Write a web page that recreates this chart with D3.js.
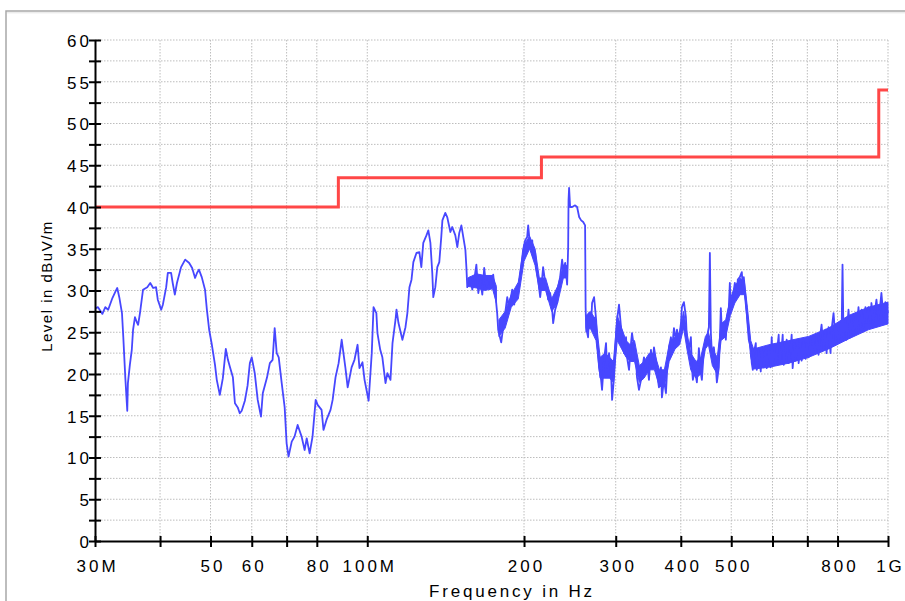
<!DOCTYPE html>
<html>
<head>
<meta charset="utf-8">
<script src="https://cdn.jsdelivr.net/npm/d3@7"></script>
<style>
  body { margin: 0; background: #fff; }
  text { font-family: "Liberation Sans", Arial, sans-serif; }
</style>
</head>
<body>
<div id="chart"></div>
<script>
// svg container
var svgWidth = 905;
var svgHeight = 601;

// margins
var margin = { top: 40, right: 17, bottom: 60, left: 95 };

var chartWidth = svgWidth - margin.left - margin.right;
var chartHeight = svgHeight - margin.top - margin.bottom;

// x ticks (MHz) and their labels
var xTickValues = [30, 40, 50, 60, 70, 80, 100, 200, 300, 400, 500, 600, 700, 800, 1000];
var xTickLabels = ["30M", "", "50", "60", "", "80", "100M", "200", "300", "400", "500", "", "", "800", "1G"];

// y ticks (dBuV/m), labels on every 5
var yTickValues = [0, 2.5, 5, 7.5, 10, 12.5, 15, 17.5, 20, 22.5, 25, 27.5, 30, 32.5, 35, 37.5, 40, 42.5, 45, 47.5, 50, 52.5, 55, 57.5, 60];

// limit line (MHz / dBuV/m)
var limitFreq = [30, 88, 88, 216, 216, 960, 960, 1000];
var limitLevel = [40, 40, 43.5, 43.5, 46, 46, 54, 54];

// measured trace [MHz, dBuV/m]
var traceData = [
  [30.1,27.9],[30.4,28.0],[31.0,27.2],[31.4,28.0],[31.8,27.7],[32.4,29.1],[32.8,29.8],[33.1,30.3],[33.4,29.2],[33.8,27.3],
  [34.0,24.4],[34.3,19.6],[34.6,15.6],[34.7,18.9],[35.0,21.1],[35.3,22.9],[35.5,25.3],[35.8,26.8],[36.1,26.2],[36.3,25.9],
  [36.6,27.3],[37.1,30.1],[37.8,30.4],[38.3,30.9],[38.8,30.3],[39.3,30.4],[39.6,28.9],[40.2,27.7],[40.5,28.3],[41.1,30.4],
  [41.4,32.1],[42.0,32.1],[42.3,30.9],[42.7,29.5],[43.1,30.9],[43.9,32.8],[44.7,33.7],[45.5,33.3],[46.1,32.7],[46.7,31.5],
  [47.1,32.1],[47.5,32.5],[48.1,31.6],[48.8,30.1],[49.2,27.7],[49.7,25.3],[50.3,23.5],[51.0,21.1],[51.4,19.3],[52.1,17.5],
  [52.8,19.5],[53.5,23.0],[54.0,21.7],[54.5,20.8],[55.2,19.6],[55.7,16.5],[56.4,16.0],[56.9,15.3],[57.4,15.6],[58.2,16.8],
  [58.9,18.6],[59.5,21.3],[60.0,22.0],[60.8,20.1],[61.6,16.9],[62.5,14.9],[63.0,17.7],[64.2,19.6],[65.0,21.3],[65.8,21.7],
  [66.4,25.5],[67.0,22.5],[67.6,22.0],[68.5,18.9],[69.4,16.0],[70.0,11.7],[70.6,10.1],[71.6,11.9],[72.5,12.5],[73.5,13.9],
  [74.8,12.5],[75.8,10.9],[76.5,12.3],[77.5,10.5],[78.5,12.5],[79.6,16.9],[80.3,16.3],[81.7,15.7],[82.4,13.3],[83.5,14.5],
  [85.0,15.7],[85.8,16.9],[86.9,19.6],[88.1,21.3],[89.3,24.1],[90.0,22.5],[90.8,20.7],[91.7,18.4],[93.3,20.8],[94.5,21.7],
  [95.8,23.5],[96.6,20.7],[97.9,21.4],[98.8,19.3],[100.6,16.8],[102.0,22.5],[102.8,28.0],[104.1,27.3],[104.6,24.9],[105.9,22.9],
  [106.9,22.0],[108.4,18.9],[109.3,20.1],[110.8,19.3],[111.8,23.7],[113.3,26.5],[113.8,27.7],[114.8,26.1],[116.8,24.1],[118.4,25.6],
  [119.4,27.3],[120.5,30.4],[121.6,31.3],[122.6,33.4],[124.3,34.5],[125.9,34.6],[127.0,32.8],[128.1,35.7],[129.9,36.6],[131.0,37.2],
  [132.2,35.7],[133.3,32.1],[133.9,29.2],[135.1,30.4],[136.3,32.8],[137.5,33.4],[138.7,36.4],[139.4,38.4],[141.2,39.3],[142.4,38.8],
  [144.4,37.0],[145.6,37.6],[147.6,36.6],[148.9,35.2],[150.2,36.9],[151.6,37.8],[152.9,36.4],[154.3,34.9],[155.0,32.8],[155.6,30.4],
  [157.7,31.6],[159.1,30.1],[160.5,31.3],[162.0,33.1],[163.4,29.7],[164.8,31.3],[166.3,29.5],[167.7,32.7],[169.2,30.4],[171.5,31.6],
  [173.0,30.4],[174.5,31.9],[176.1,29.7],[177.6,27.3],[178.4,25.3],[180.8,23.8],[182.4,25.6],[184.0,27.3],[185.7,29.2],[187.3,28.0],
  [189.8,30.1],[191.5,28.3],[193.2,30.1],[194.8,29.7],[197.5,32.8],[199.2,34.9],[201.0,36.0],[202.8,36.4],[203.7,37.8],[205.5,35.2],
  [207.4,36.0],[208.3,34.0],[210.1,34.5],[211.0,32.8],[212.9,31.3],[214.8,29.2],[216.6,31.3],[217.6,32.8],[219.6,31.0],[221.5,30.1],
  [222.5,28.9],[224.5,29.7],[226.5,27.7],[227.5,26.1],[229.5,27.7],[231.6,28.5],[232.6,30.4],[234.6,31.6],[236.7,33.7],[237.8,32.5],
  [239.9,33.3],[242.0,30.7],[243.1,35.2],[243.5,40.8],[244.1,42.3],[245.2,40.0],[247.4,40.0],[250.7,40.2],[252.9,40.0],[255.2,38.8],
  [257.5,38.4],[259.8,38.2],[262.0,37.8],[262.6,28.0],[263.2,25.6],[265.5,24.4],[266.7,27.3],[269.0,25.6],[270.2,28.5],[272.6,29.2],
  [275.1,26.5],[276.3,24.1],[278.7,20.8],[281.2,19.3],[282.4,18.1],[284.9,21.7],[287.4,23.7],[288.7,20.8],[291.3,22.5],[293.9,20.1],
  [295.2,16.9],[297.8,19.6],[300.5,24.9],[301.8,26.5],[304.4,28.3],[307.1,25.6],[308.5,24.1],[311.2,22.5],[314.0,24.4],[315.4,22.0],
  [318.2,20.5],[321.0,23.7],[322.4,24.9],[325.3,23.2],[328.2,21.7],[329.6,19.6],[332.5,18.1],[335.5,19.3],[337.0,20.5],[339.9,22.0],
  [342.9,20.8],[344.4,21.7],[347.5,19.3],[350.6,22.9],[352.2,20.8],[355.3,23.2],[358.4,21.7],[360.0,20.1],[363.2,18.4],[366.4,20.8],
  [368.0,17.2],[371.3,19.3],[374.6,17.7],[376.3,20.1],[379.6,23.2],[383.0,24.4],[384.7,22.9],[388.1,25.5],[391.5,24.1],[393.3,25.3],
  [396.7,24.1],[400.3,26.1],[402.0,28.0],[405.6,28.6],[409.2,26.8],[411.0,24.1],[414.6,22.9],[418.3,24.4],[420.1,20.8],[422.0,19.3],
  [425.8,20.5],[429.5,19.0],[431.4,20.8],[433.3,23.1],[437.2,20.1],[439.1,19.3],[443.0,22.9],[446.9,24.1],[448.9,24.4],[452.9,25.6],
  [454.9,34.5],[456.9,24.9],[458.9,22.5],[463.0,23.2],[467.1,20.8],[469.2,19.0],[473.3,20.8],[475.4,24.1],[477.5,27.9],[479.6,25.3],
  [483.9,26.1],[488.2,24.1],[490.4,26.8],[494.7,28.0],[496.9,30.9],[499.1,28.0],[503.5,29.2],[508.0,30.9],[512.5,29.7],[514.7,31.3],
  [519.3,31.6],[523.9,32.2],[526.2,30.4],[528.5,31.6],[533.2,28.9],[535.6,27.3],[537.9,25.6],[540.3,24.1],[545.1,23.2],[547.5,21.3],
  [550.0,20.5],[552.4,22.5],[557.3,23.7],[559.8,20.5],[564.7,22.9],[569.7,20.3],[572.2,23.1],[577.3,20.8],[582.4,22.9],[585.0,20.7],
  [590.1,23.2],[595.3,20.8],[597.9,24.4],[600.6,21.3],[605.9,23.2],[608.6,21.1],[614.0,23.5],[616.7,24.7],[619.5,21.3],[625.0,23.2],
  [627.7,24.7],[630.5,21.1],[636.1,23.2],[638.9,24.1],[644.5,21.3],[650.3,23.2],[653.1,24.7],[656.0,20.7],[661.8,23.7],[664.7,21.6],
  [670.6,24.1],[673.6,21.3],[679.6,23.7],[682.6,21.6],[688.6,24.1],[694.7,21.8],[697.8,23.7],[703.9,22.0],[710.2,24.1],[713.3,22.3],
  [719.6,23.8],[726.0,22.5],[729.2,24.4],[735.7,22.3],[742.2,25.0],[745.5,25.9],[752.1,22.9],[758.8,25.3],[762.1,22.5],[768.8,25.6],
  [775.6,22.5],[779.1,25.3],[786.0,27.3],[793.0,24.1],[796.5,25.6],[803.5,23.8],[810.6,26.1],[814.2,24.1],[817.8,33.1],[821.4,24.4],
  [828.7,26.5],[832.4,24.1],[839.7,27.7],[847.2,24.4],[850.9,26.5],[858.4,24.7],[866.1,26.8],[869.9,24.9],[877.6,28.0],[885.4,25.3],
  [889.3,27.7],[897.1,25.6],[905.1,28.0],[909.1,26.1],[917.1,28.0],[925.3,26.1],[929.4,28.5],[937.6,26.2],[946.0,28.0],[950.2,28.9],
  [958.5,26.5],[967.0,28.5],[971.3,29.7],[979.9,26.8],[988.6,28.6],[1000,27.3]
];

// solid core of the noise band where the trace is dense [MHz, low, high]; null marks a gap
var bandData = [
  [156,30.5,31.5],[162,30.3,32.0],[168,30.0,31.8],[174,30.2,31.8],[177,28.5,30.5],
  [null,null,null],
  [179,24.5,26.5],[184,25.5,27.5],[189,28.0,29.5],[195,29.0,31.0],[200,33.5,35.5],[205,35.0,36.5],[210,33.0,35.0],
  [214,30.0,31.5],[220,30.0,31.5],[226,27.5,29.0],[232,28.5,30.5],[238,31.5,33.0],[242,31.5,33.0],
  [null,null,null],
  [263,25.0,27.0],[268,25.5,27.5],[275,24.0,26.5],[280,19.5,22.0],[286,19.5,22.5],[292,19.5,22.0],[297,19.0,21.5],
  [302,24.0,27.0],[308,23.0,25.5],[314,22.0,24.0],[320,21.5,23.5],[326,21.5,24.0],[333,19.0,21.0],[340,19.5,21.5],
  [348,20.5,22.5],[356,20.5,22.5],[364,18.5,20.5],[372,18.5,20.5],[380,21.5,23.5],[390,23.0,24.5],[398,23.5,25.0],
  [405,25.5,27.5],[411,23.0,25.0],[418,20.5,22.5],[428,19.5,21.5],[437,20.0,22.0],[446,23.0,24.5],[452,23.5,25.0],
  [460,21.0,23.0],[470,20.0,22.0],[478,24.0,26.0],[488,24.5,26.5],[498,27.0,29.0],[508,28.5,30.5],[520,29.5,31.5],
  [530,29.5,31.0],[537,26.0,28.0],[545,22.0,24.0],[552,20.6,23.0],[590,20.8,23.5],[645,21.3,24.0],[704,22.0,24.5],
  [769,23.0,25.5],[840,24.2,27.0],[917,25.3,28.0],[1000,26.0,28.6]
];

// create svg container
var svg = d3.select("#chart").append("svg")
  .attr("width", svgWidth)
  .attr("height", svgHeight);

// outer frame (runs off the picture on the right and bottom)
svg.append("rect")
  .attr("x", 6)
  .attr("y", 11)
  .attr("width", 1000)
  .attr("height", 1000)
  .attr("fill", "none")
  .attr("stroke", "#a8a8a8")
  .attr("stroke-width", 1.5);
svg.append("line")
  .attr("x1", 7).attr("x2", svgWidth)
  .attr("y1", 12.8).attr("y2", 12.8)
  .attr("stroke", "#e4e4e4");

var chartGroup = svg.append("g")
  .attr("transform", `translate(${margin.left}, ${margin.top})`);

// scales
var xScale = d3.scaleLog()
  .domain([30, 1000])
  .range([0, chartWidth]);

var yScale = d3.scaleLinear()
  .domain([0, 60])
  .range([chartHeight, 0]);

// grid
chartGroup.append("g")
  .selectAll("line")
  .data(yTickValues.filter(d => d > 0))
  .enter()
  .append("line")
  .attr("x1", 0)
  .attr("x2", chartWidth)
  .attr("y1", d => yScale(d))
  .attr("y2", d => yScale(d))
  .attr("stroke", "#bdbdbd")
  .attr("stroke-dasharray", "1.5,1.5");

chartGroup.append("g")
  .selectAll("line")
  .data(xTickValues.filter(d => d > 30))
  .enter()
  .append("line")
  .attr("x1", d => xScale(d))
  .attr("x2", d => xScale(d))
  .attr("y1", 0)
  .attr("y2", chartHeight)
  .attr("stroke", "#bdbdbd")
  .attr("stroke-dasharray", "1.5,1.5");

// noise band core
var bandArea = d3.area()
  .defined(d => d[0] !== null)
  .x(d => xScale(d[0]))
  .y0(d => yScale(d[1]))
  .y1(d => yScale(d[2]));

chartGroup.append("path")
  .datum(bandData)
  .attr("d", bandArea)
  .attr("fill", "#4747ff")
  .attr("stroke", "#4747ff")
  .attr("stroke-width", 1);

// measured trace
var traceLine = d3.line()
  .x(d => xScale(d[0]))
  .y(d => yScale(d[1]));

chartGroup.append("path")
  .datum(traceData)
  .attr("d", traceLine)
  .attr("fill", "none")
  .attr("stroke", "#4747ff")
  .attr("stroke-width", 1.8)
  .attr("stroke-linejoin", "round");

// limit line
var limitLine = d3.line()
  .x(d => xScale(limitFreq[d]))
  .y(d => yScale(limitLevel[d]));

chartGroup.append("path")
  .datum(d3.range(limitFreq.length))
  .attr("d", limitLine)
  .attr("fill", "none")
  .attr("stroke", "#ff4747")
  .attr("stroke-width", 3);

// axes
var yAxis = d3.axisLeft(yScale)
  .tickValues(yTickValues)
  .tickSizeOuter(0)
  .tickFormat(d => d % 5 === 0 ? d : "");

var xAxis = d3.axisBottom(xScale)
  .tickValues(xTickValues)
  .tickSizeOuter(0)
  .tickFormat((d, i) => xTickLabels[i]);

var yAxisGroup = chartGroup.append("g").call(yAxis);
yAxisGroup.select(".domain").attr("stroke", "#000").attr("stroke-width", 2);
yAxisGroup.selectAll(".tick line")
  .attr("x1", 6).attr("x2", -6)
  .attr("stroke", "#000").attr("stroke-width", 2);
yAxisGroup.selectAll(".tick text")
  .attr("x", -3)
  .attr("dy", "0.38em")
  .style("font-size", "17px")
  .style("letter-spacing", "3px")
  .attr("fill", "#000");

var xAxisGroup = chartGroup.append("g")
  .attr("transform", `translate(0, ${chartHeight})`)
  .call(xAxis);
xAxisGroup.select(".domain").attr("stroke", "#000").attr("stroke-width", 2);
xAxisGroup.selectAll(".tick line")
  .attr("y1", -5).attr("y2", 6)
  .attr("stroke", "#000").attr("stroke-width", 2);
xAxisGroup.selectAll(".tick text")
  .attr("y", 31)
  .attr("dy", "0")
  .attr("dx", 2)
  .style("font-size", "17px")
  .style("letter-spacing", "3px")
  .attr("fill", "#000");

// axis labels
svg.append("text")
  .attr("transform", "rotate(-90)")
  .attr("x", -286)
  .attr("y", 52)
  .attr("text-anchor", "middle")
  .style("font-size", "15px")
  .style("letter-spacing", "1.5px")
  .text("Level in dBuV/m");

svg.append("text")
  .attr("x", 512)
  .attr("y", 597)
  .attr("text-anchor", "middle")
  .style("font-size", "17px")
  .style("letter-spacing", "2.8px")
  .text("Frequency in Hz");
</script>
</body>
</html>
